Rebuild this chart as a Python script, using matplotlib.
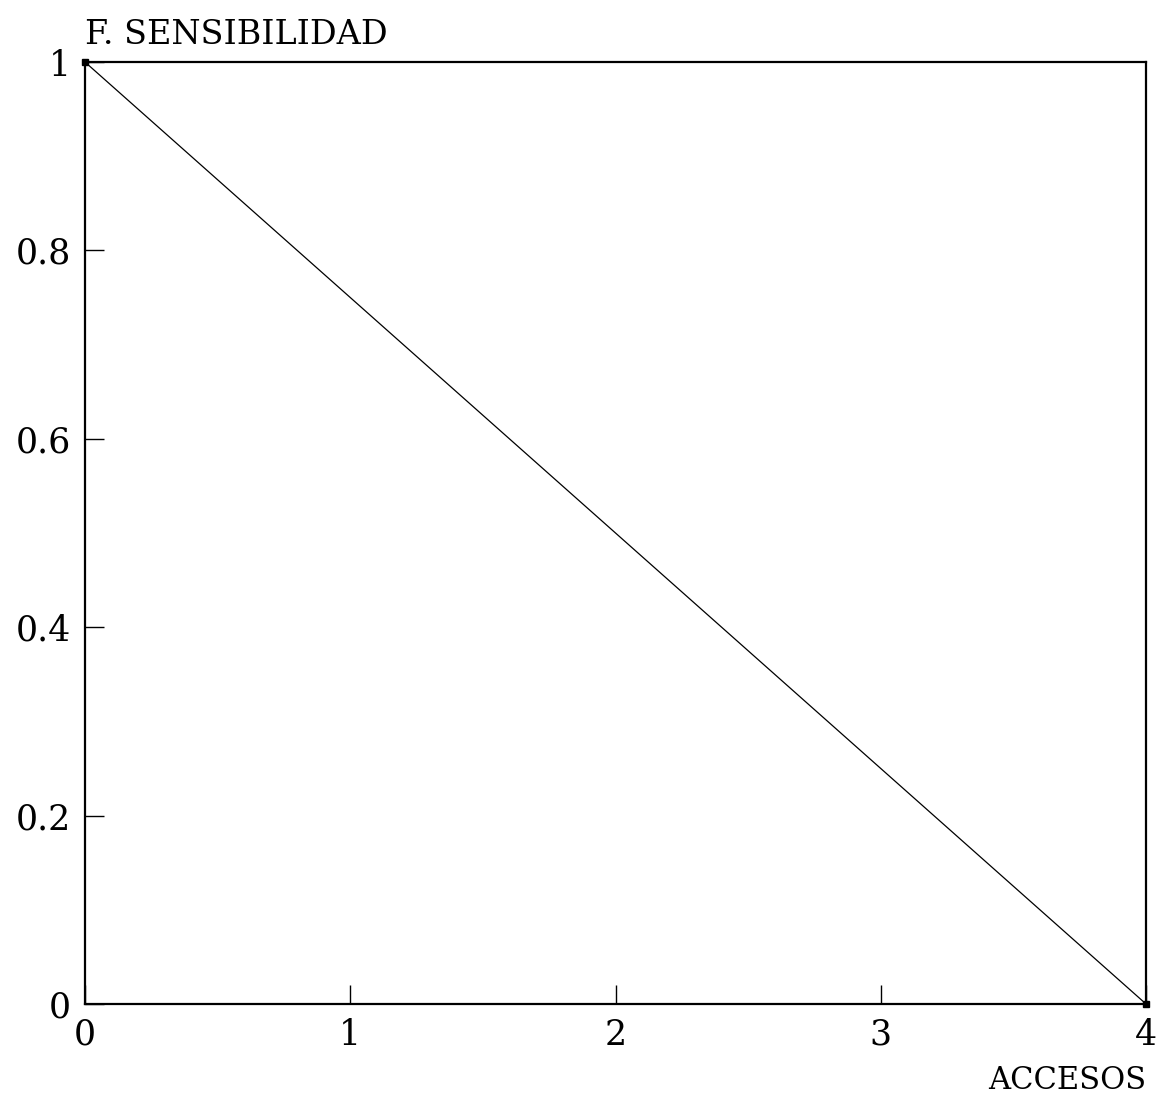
import matplotlib
matplotlib.use("Agg")
import matplotlib.pyplot as plt

accesos = [0, 4]
sensibilidad = [1, 0]
xticks = [0, 1, 2, 3, 4]
yticks = [0, 0.2, 0.4, 0.6, 0.8, 1]
ylabels = ["0", "0.2", "0.4", "0.6", "0.8", "1"]

plt.rcParams['font.family'] = ['DejaVu Serif']

fig = plt.figure(figsize=(11.66, 10.98), dpi=100)
ax = fig.add_axes([0.0729, 0.0856, 0.9100, 0.8579])
ax.plot(accesos, sensibilidad, color='black', lw=0.9)
ax.plot(accesos, sensibilidad, ls='none', marker='s', ms=4, color='black', clip_on=False)
ax.set_xlim(0, 4)
ax.set_ylim(0, 1)
ax.set_xticks(xticks)
ax.set_xticklabels([str(t) for t in xticks])
ax.set_yticks(yticks)
ax.set_yticklabels(ylabels)
ax.tick_params(direction='in', length=14, width=1, labelsize=25, pad=10)
ax.tick_params(axis='x', pad=10)
for s in ax.spines.values():
    s.set_linewidth(1.6)
fig.text(0.0729, 0.968, "F. SENSIBILIDAD", fontsize=24, ha='left', va='center')
fig.text(0.983, 0.016, "ACCESOS", fontsize=22, ha='right', va='center')
fig.savefig("out.png", dpi=100)
